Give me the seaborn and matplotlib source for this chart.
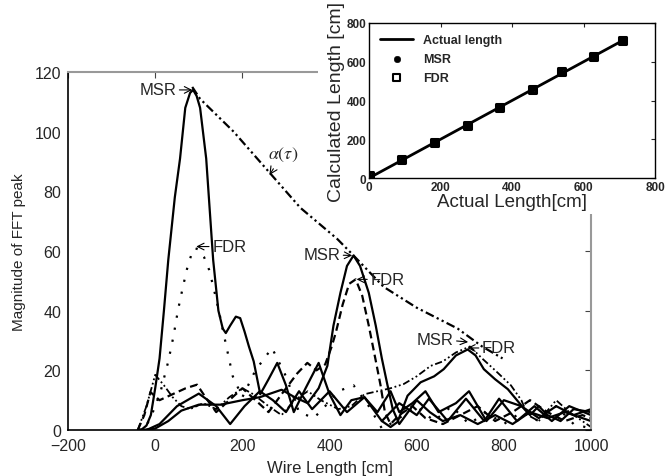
import matplotlib
matplotlib.use("Agg")
import matplotlib.pyplot as plt
import seaborn as sns
import numpy as np
import pandas as pd
from matplotlib.patches import Rectangle

sns.set_style("white")
plt.rcParams['font.family'] = ['Liberation Sans', 'DejaVu Sans']
plt.rcParams['mathtext.fontset'] = 'stix'

# ---- main chart data (Wire Length [cm] vs Magnitude of FFT peak) ----
msr90_x = [-40, -30, -20, -10, 0, 10, 20, 30, 45, 57, 69, 80, 87, 95, 103, 117, 133, 145, 155, 162, 172, 185, 195, 205, 215, 226, 241,
           260, 280, 300, 318, 345, 375, 400, 425, 450, 480, 510, 540, 560, 590, 620, 650, 690, 720, 760, 800, 840, 880, 920, 960, 1000]
msr90_y = [0, 0.3, 1.5, 5, 14, 24, 40, 57, 78, 91, 108, 113, 114, 112, 108, 91, 57, 40, 34, 32.5, 35, 38, 37.5, 33, 28, 23, 12,
           17, 22.5, 15, 6, 14, 22.5, 12, 5, 10, 11, 6, 13, 6, 9, 13, 6, 9, 13, 3, 10, 8, 4, 8, 5, 7]

fdr90_x = [-40, -20, -8, 12, 30, 42, 52, 63, 73, 83, 90, 100, 112, 124, 134, 146, 156, 167, 178, 200, 230, 268, 300, 330, 364,
           390, 420, 455, 490, 521, 560, 600, 640, 680, 720, 760, 800, 840, 880, 920, 960, 1000]
fdr90_y = [0, 1.5, 5, 12.7, 23, 31.5, 40, 47.6, 54, 58.8, 61, 60.5, 58, 53.6, 47.6, 40, 33, 25.5, 18, 11, 20, 27.5, 18, 6, 4,
           8, 13, 15, 8, 0.3, 4, 8, 3, 8, 2, 6, 2, 6, 3, 8, 2, 0.5]

msr450_x = [-30, 0, 30, 60, 100, 150, 200, 240, 290, 320, 350, 375, 395, 409, 425, 440, 455, 470, 490, 506, 520, 533, 545, 560,
            580, 600, 630, 660, 700, 740, 780, 820, 860, 900, 940, 980, 1000]
msr450_y = [0, 0.5, 3, 6.5, 8.5, 8.5, 10, 11, 13.5, 11, 9, 14, 21.5, 35, 46, 55, 58.5, 55, 46, 35, 24, 15, 7, 2,
            6, 10, 6, 3, 5, 2, 5, 2, 6, 4, 6, 4, 3]

fdr450_x = [-40, -25, -11, 10, 40, 70, 96, 120, 140, 170, 200, 230, 260, 290, 326, 349, 370, 390, 405, 415, 430, 445, 460,
            475, 490, 505, 517, 527, 540, 560, 590, 620, 660, 700, 740, 780, 820, 860, 900, 940, 980, 1000]
fdr450_y = [0, 5, 12.7, 10, 12, 14, 15.2, 10, 6, 10, 14, 10, 6, 12, 19, 22.5, 20, 22, 28, 33, 42, 49, 50.5,
            45, 35, 24, 15, 6, 2, 5, 8, 4, 2, 5, 8, 3, 6, 10, 6, 3, 5, 4]

low_x = [-20, 10, 50, 100, 140, 172, 205, 240, 270, 300, 330, 360, 400, 440, 480, 520, 560, 600, 628, 671, 713, 755, 789,
         830, 870, 910, 950, 1000]
low_y = [0, 2, 8, 12.2, 8, 2, 8, 13, 10, 6, 13, 7, 13, 6, 11, 3, 9, 5, 10.5, 3, 10.5, 3, 10.5, 3, 8, 3, 8, 5]

msr710_x = [520, 540, 556, 579, 609, 640, 662, 690, 717, 735, 754, 780, 809, 830, 847, 860, 880, 900, 930, 960, 1000]
msr710_y = [3, 1, 2.7, 11.5, 16, 18, 20.4, 25, 27, 25, 20.4, 17, 13.7, 10, 7, 5, 8, 5, 3, 7, 6]

fdr710_x = [-40, -20, 0, 20, 40, 60, 80, 110, 140, 170, 200, 225, 260, 290, 320, 350, 380, 420, 450, 480, 510, 540, 570,
            600, 632, 660, 690, 722, 750, 780, 816, 840, 855, 880, 920, 950, 980, 1000]
fdr710_y = [0, 8, 18.5, 15, 11, 8, 7, 9, 7, 11, 14, 12, 8, 5, 10, 13, 10, 7, 8, 12, 13, 14, 15.4,
            18, 21.5, 23, 26, 28, 24, 20, 15, 10, 5, 3, 10, 6, 3, 1]

alpha_x = [85, 103, 180, 264, 333, 418, 455, 524, 600, 694, 750, 797]
alpha_y = [115, 111, 100, 86, 74.5, 64, 58.5, 48, 41, 34, 28, 24]

# ---- inset data ----
actual_len = [0, 91, 183, 275, 366, 457, 538, 628, 710]
msr_len = [12, 95, 181, 269, 362, 457, 548, 629, 712]
fdr_len = [12, 95, 181, 269, 362, 457, 548, 629, 712]
line_x = [0, 710]
line_y = [0, 710]

fig = plt.figure(figsize=(6.65, 4.77), dpi=100)
ax = fig.add_axes([0.1023, 0.0964, 0.7865, 0.7505])

curves = [
    (msr90_x, msr90_y, '-', 1.6),
    (fdr90_x, fdr90_y, (0, (1, 4.5)), 1.6),
    (msr450_x, msr450_y, '-', 1.6),
    (fdr450_x, fdr450_y, (0, (3.5, 2)), 1.6),
    (low_x, low_y, '-', 1.6),
    (msr710_x, msr710_y, '-', 1.6),
    (fdr710_x, fdr710_y, (0, (4, 1.5, 1, 1.5, 1, 1.5)), 1.3),
    (alpha_x, alpha_y, (0, (4, 1.5, 1, 1.5, 1, 1.5)), 1.6),
]
for cx, cy, ls, lw in curves:
    df = pd.DataFrame({'x': cx, 'y': cy})
    sns.lineplot(data=df, x='x', y='y', ax=ax, color='black', linestyle=ls, linewidth=lw,
                 sort=False, estimator=None)

ax.set_xlim(-200, 1000)
ax.set_ylim(0, 120)
ax.set_xticks(range(-200, 1001, 200))
ax.set_yticks(range(0, 121, 20))
ax.set_xticklabels(['\u2212200', '0', '200', '400', '600', '800', '1000'])
ax.tick_params(direction='in', length=4, top=True, right=True, labelsize=11.5, color='#444444')
ax.tick_params(axis='x', pad=6)
ax.tick_params(axis='y', pad=5)
ax.set_xlabel('Wire Length [cm]', fontsize=12, labelpad=5)
ax.set_ylabel('Magnitude of FFT peak', fontsize=11, labelpad=6)
for s in ['left', 'bottom']:
    ax.spines[s].set_color('black')
    ax.spines[s].set_linewidth(1.2)
for s in ['top', 'right']:
    ax.spines[s].set_color('#999999')
    ax.spines[s].set_linewidth(1.5)

ap = dict(arrowstyle='->', color='black', lw=0.8, shrinkA=0, shrinkB=0)
fs = 12
ax.annotate('MSR', xy=(85, 114), xytext=(48, 114), ha='right', va='center', fontsize=fs, arrowprops=ap)
ax.annotate('FDR', xy=(94, 61.5), xytext=(131, 61.5), ha='left', va='center', fontsize=fs, arrowprops=ap)
ax.annotate('MSR', xy=(452, 58.5), xytext=(424, 58.8), ha='right', va='center', fontsize=fs, arrowprops=ap)
ax.annotate('FDR', xy=(462, 50.5), xytext=(494, 50.5), ha='left', va='center', fontsize=fs, arrowprops=ap)
ax.annotate('MSR', xy=(718, 29.5), xytext=(684, 30.5), ha='right', va='center', fontsize=fs, arrowprops=ap)
ax.annotate('FDR', xy=(716, 27.5), xytext=(750, 27.5), ha='left', va='center', fontsize=fs, arrowprops=ap)
ax.annotate(r'$\alpha(\tau)$', xy=(262, 85.5), xytext=(258, 92.5), ha='left', va='center', fontsize=13,
            arrowprops=dict(arrowstyle='->', color='black', lw=0.8, shrinkA=2, shrinkB=0))

# white area behind inset (covers main frame like the original)
ax.add_patch(Rectangle((318 / 665, 1 - 215 / 477), 1 - 318 / 665, 215 / 477, transform=fig.transFigure,
                       facecolor='white', edgecolor='none', zorder=20, clip_on=False))

# ---- inset ----
ins = fig.add_axes([0.555, 0.6247, 0.430, 0.325])
ins.set_zorder(30)
sns.lineplot(x=line_x, y=line_y, ax=ins, color='black', linewidth=2, label='Actual length')
sns.scatterplot(x=actual_len, y=msr_len, ax=ins, color='black', marker='o', s=22, edgecolor='black',
                label='MSR', zorder=3)
sns.scatterplot(x=actual_len, y=fdr_len, ax=ins, marker='s', s=26, facecolor='none', edgecolor='black',
                linewidth=2.2, label='FDR', zorder=4)
ins.set_xlim(0, 800)
ins.set_ylim(0, 800)
ins.set_xticks(range(0, 801, 200))
ins.set_yticks(range(0, 801, 200))
ins.tick_params(direction='in', length=3, top=True, right=True, labelsize=8.5, pad=2)
for lab in ins.get_xticklabels() + ins.get_yticklabels():
    lab.set_fontweight('bold')
for s in ins.spines.values():
    s.set_color('black')
    s.set_linewidth(1.0)
ins.set_xlabel('Actual Length[cm]', fontsize=13.5, labelpad=0)
ins.set_ylabel('Calculated Length [cm]', fontsize=14, labelpad=1)
leg = ins.legend(loc='upper left', frameon=False, prop={'weight': 'bold', 'size': 9},
                 handlelength=2.6, borderaxespad=0.5, labelspacing=0.55)
for h in leg.legend_handles[1:]:
    h.set_sizes([22])
leg.legend_handles[2].set_linewidth(1.5)

fig.savefig('out.png', dpi=100)
